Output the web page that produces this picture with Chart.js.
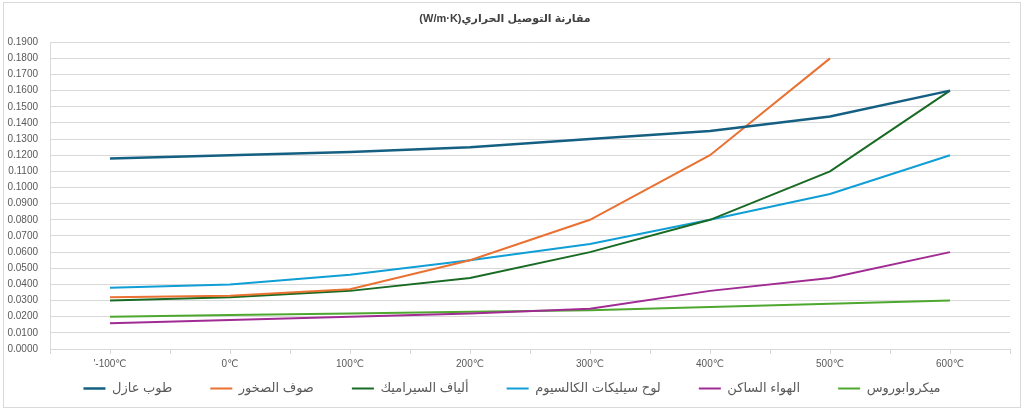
<!DOCTYPE html>
<html>
<head>
<meta charset="utf-8">
<script src="https://cdn.jsdelivr.net/npm/chart.js@4/dist/chart.umd.min.js"></script>
<style>
html,body{margin:0;padding:0;background:#fff;}
#wrap{position:relative;width:1024px;height:410px;}
canvas{display:block;}
</style>
</head>
<body>
<div id="wrap"><canvas id="c" width="1024" height="410"></canvas></div>
<script>
const categories = ["'-100℃", "0℃", "100℃", "200℃", "300℃", "400℃", "500℃", "600℃"];
const seriesNames = ["طوب عازل", "صوف الصخور", "ألياف السيراميك", "لوح سيليكات الكالسيوم", "الهواء الساكن", "ميكروابوروس"];
const insulatingBrick = [0.118, 0.120, 0.122, 0.125, 0.130, 0.135, 0.144, 0.160];
const rockWool = [0.032, 0.033, 0.037, 0.055, 0.080, 0.120, 0.180, null];
const ceramicFiber = [0.030, 0.032, 0.036, 0.044, 0.060, 0.080, 0.110, 0.160];
const calciumSilicate = [0.038, 0.040, 0.046, 0.055, 0.065, 0.080, 0.096, 0.120];
const stillAir = [0.016, 0.018, 0.020, 0.022, 0.025, 0.036, 0.044, 0.060];
const microporous = [0.020, 0.021, 0.022, 0.023, 0.024, 0.026, 0.028, 0.030];
const titleText = "(W/m·K)مقارنة التوصيل الحراري";
const yMin = 0, yMax = 0.19, yStep = 0.01;

const colors = ["#156082", "#E97132", "#196B24", "#0F9ED5", "#A02B93", "#4EA72E"];
const widths = [2.5, 2, 2, 2, 2, 2];
const seriesData = [insulatingBrick, rockWool, ceramicFiber, calciumSilicate, stillAir, microporous];

const FONT = "'Liberation Sans', 'DejaVu Sans', sans-serif";
const LEG_PAD = 38;      // horizontal gap between legend items
const LEG_PAD_V = 8;     // effective top padding
const LEG_H = 34;        // legend box height
const LEG_SHIFT_X = 7;

const borderPlugin = {
  id: 'outerBorder',
  beforeLayout(chart) {
    const lg = chart.legend;
    if (!lg || lg._tweaked) return;
    lg._tweaked = true;
    const origFit = lg.fit;
    lg.fit = function() {
      origFit.call(this);
      this.height = LEG_H;
    };
    const origDraw = lg.draw;
    lg.draw = function() {
      const t = this.top, l = this.left, r = this.right;
      this.top = t - (LEG_PAD - LEG_PAD_V);
      this.left = l + LEG_SHIFT_X;
      this.right = r + LEG_SHIFT_X;
      origDraw.call(this);
      this.top = t; this.left = l; this.right = r;
    };
  },
  beforeDraw(chart) {
    const ctx = chart.ctx;
    ctx.save();
    ctx.fillStyle = '#fff';
    ctx.fillRect(0, 0, chart.width, chart.height);
    ctx.strokeStyle = '#d9d9d9';
    ctx.lineWidth = 1;
    ctx.strokeRect(3.5, 2.5, chart.width - 7, chart.height - 5);
    ctx.restore();
  },
  afterDraw(chart) {
    const x = chart.scales.x;
    const ctx = chart.ctx;
    const yb = chart.chartArea.bottom;
    ctx.save();
    ctx.strokeStyle = '#d9d9d9';
    ctx.lineWidth = 1;
    ctx.beginPath();
    for (let i = 0; i < categories.length; i++) {
      const px = Math.round(x.getPixelForValue(i)) + 0.5;
      ctx.moveTo(px, yb);
      ctx.lineTo(px, yb + 5);
    }
    ctx.stroke();
    ctx.restore();
  }
};

new Chart(document.getElementById('c'), {
  type: 'line',
  data: {
    labels: categories,
    datasets: seriesNames.map((n, i) => ({
      label: n,
      data: seriesData[i],
      borderColor: colors[i],
      backgroundColor: colors[i],
      borderWidth: widths[i],
      pointRadius: 0,
      pointHoverRadius: 0,
      pointStyle: 'line',
      tension: 0,
      fill: false,
      spanGaps: false
    }))
  },
  options: {
    responsive: false,
    animation: false,
    devicePixelRatio: 1,
    layout: { padding: { left: 0, right: 14, top: 7, bottom: 2 } },
    plugins: {
      title: {
        display: true,
        text: titleText,
        color: '#404040',
        font: { family: FONT, size: 11, weight: 'bold' },
        padding: { top: 5, bottom: 17 }
      },
      legend: {
        display: true,
        position: 'bottom',
        labels: {
          usePointStyle: true,
          pointStyle: 'line',
          pointStyleWidth: 22,
          boxWidth: 22,
          boxHeight: 12,
          padding: LEG_PAD,
          color: '#595959',
          font: { family: FONT, size: 13 }
        }
      },
      tooltip: { enabled: false }
    },
    scales: {
      x: {
        type: 'category',
        offset: true,
        grid: {
          display: true,
          offset: true,
          drawOnChartArea: false,
          drawTicks: true,
          tickLength: 5,
          color: '#d9d9d9'
        },
        border: { display: true, color: '#d9d9d9' },
        ticks: {
          color: '#595959',
          font: { family: FONT, size: 10 },
          padding: 4,
          maxRotation: 0
        }
      },
      y: {
        min: yMin,
        max: yMax,
        afterFit(scale) { scale.width = 50; },
        afterBuildTicks(scale) {
          const t = [];
          for (let i = 0; i <= Math.round((yMax - yMin) / yStep); i++) t.push({ value: +(yMin + i * yStep).toFixed(4) });
          scale.ticks = t;
        },
        grid: { color: '#d9d9d9', drawTicks: false },
        border: { display: true, color: '#d9d9d9' },
        ticks: {
          color: '#595959',
          font: { family: FONT, size: 10 },
          padding: 12,
          callback: v => Number(v).toFixed(4)
        }
      }
    }
  },
  plugins: [borderPlugin]
});
</script>
</body>
</html>
